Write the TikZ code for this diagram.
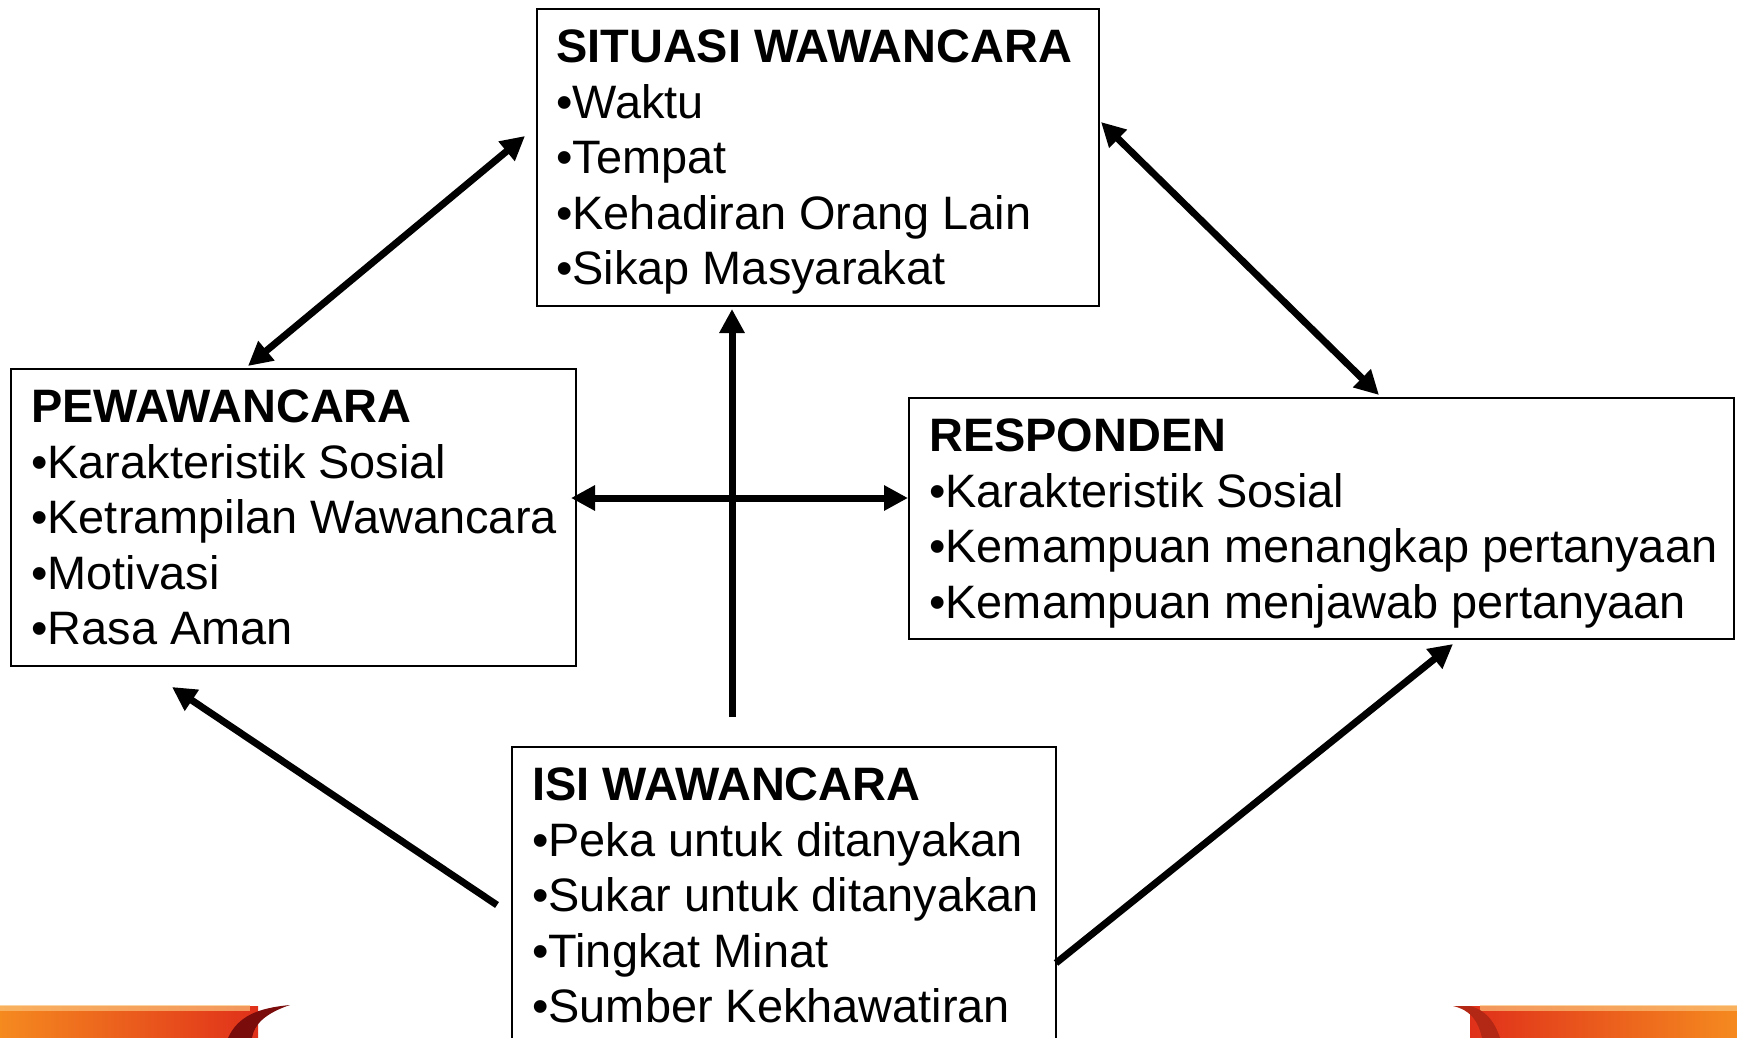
\documentclass[tikz,border=0pt]{standalone}
\usepackage{fontspec}
\setmainfont{Liberation Sans}
\usetikzlibrary{arrows.meta}
\definecolor{bandor}{HTML}{F58A1F}
\definecolor{bandred}{HTML}{E0301A}
\definecolor{bandlight}{HTML}{FBC27A}
\definecolor{banddark}{HTML}{7A0C0C}
\tikzset{
  box/.style={draw=black, line width=2pt, fill=white, inner sep=0pt, anchor=north west},
  boxtext/.style={inner sep=0pt, anchor=north west, align=left, font=\fontsize{46.9}{55.4}\selectfont},
  conn/.style={line width=7pt, -{Triangle[length=24pt,width=24pt]}},
  conn2/.style={line width=7pt, {Triangle[length=24pt,width=24pt]}-{Triangle[length=24pt,width=24pt]}},
}
\begin{document}
\begin{tikzpicture}[x=1pt,y=-1pt]
\useasboundingbox (0,0) rectangle (1737,1038);
\fill[white] (0,0) rectangle (1737,1038);
% bottom decorations
\shade[left color=bandor, right color=bandred] (0,1006) rectangle (258,1038);
\fill[bandlight, opacity=0.7] (0,1005) rectangle (250,1011);
\fill[banddark] (228,1038) .. controls (238,1016) and (258,1008) .. (290,1005) .. controls (266,1013) and (254,1024) .. (252,1038) -- cycle;
\shade[left color=bandred, right color=bandor] (1470,1006) rectangle (1737,1038);
\fill[bandlight, opacity=0.7] (1480,1005) rectangle (1737,1011);
\fill[bandred!80!black] (1453,1006) .. controls (1470,1010) and (1478,1020) .. (1482,1038) -- (1500,1038) .. controls (1494,1020) and (1485,1010) .. (1470,1006) -- cycle;
% boxes
\node[box, minimum width=562pt, minimum height=297pt] (sit) at (536,8) {};
\node[box, minimum width=565pt, minimum height=297pt] (pew) at (10,368) {};
\node[box, minimum width=825pt, minimum height=241pt] (resp) at (908,397) {};
\node[box, minimum width=544pt, minimum height=320pt] (isi) at (511,746) {};
% texts
\node[boxtext] (sitT) at ([xshift=20pt,yshift=-22pt]sit.north west) {\textbf{SITUASI WAWANCARA}\\•Waktu\\•Tempat\\•Kehadiran Orang Lain\\•Sikap Masyarakat};
\node[boxtext] (pewT) at ([xshift=21pt,yshift=-22pt]pew.north west) {\textbf{PEWAWANCARA}\\•Karakteristik Sosial\\•Ketrampilan Wawancara\\•Motivasi\\•Rasa Aman};
\node[boxtext] (respT) at ([xshift=21pt,yshift=-22pt]resp.north west) {\textbf{RESPONDEN}\\•Karakteristik Sosial\\•Kemampuan menangkap pertanyaan\\•Kemampuan menjawab pertanyaan};
\node[boxtext] (isiT) at ([xshift=21pt,yshift=-22pt]isi.north west) {\textbf{ISI WAWANCARA}\\•Peka untuk ditanyakan\\•Sukar untuk ditanyakan\\•Tingkat Minat\\•Sumber Kekhawatiran};
% connector end points
\coordinate (a1) at (525,136);
\coordinate (a2) at (248,366);
\coordinate (b1) at (1101,122);
\coordinate (b2) at (1379,395);
\coordinate (c1) at (732,717);
\coordinate (c2) at (732,309);
\coordinate (d1) at (571,498);
\coordinate (d2) at (908,498);
\coordinate (e1) at (497,905);
\coordinate (e2) at (172,687);
\coordinate (f1) at (1056,963);
\coordinate (f2) at (1453,644);
\draw[conn2] (a1) -- (a2);
\draw[conn2] (b1) -- (b2);
\draw[conn] (c1) -- (c2);
\draw[conn2] (d1) -- (d2);
\draw[conn] (e1) -- (e2);
\draw[conn] (f1) -- (f2);
\end{tikzpicture}
\end{document}
